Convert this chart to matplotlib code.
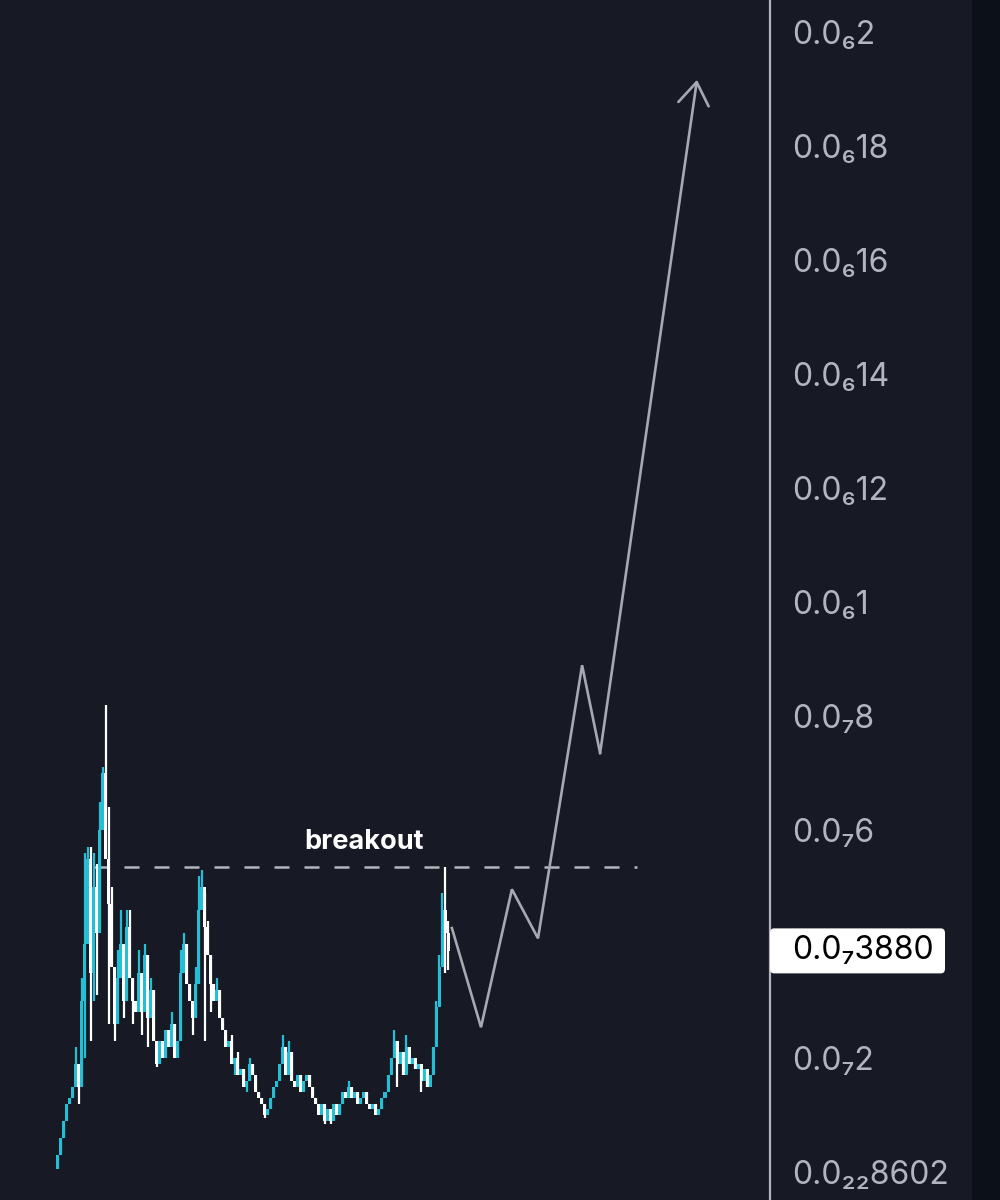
import matplotlib
matplotlib.use("Agg")
import matplotlib.pyplot as plt
from matplotlib.patches import Rectangle, FancyBboxPatch

plt.rcParams['font.family'] = ['Inter', 'DejaVu Sans']

# prices in units of 1e-8 (0.0₇1 == 1.0)
closes = [
    0.3, 0.6, 0.9, 1.2, 1.3, 1.5, 1.9, 1.5, 3.0, 4.0,
    5.5, 3.5, 5.0, 4.2, 6.0, 7.0, 5.5, 4.7, 3.6, 2.6,
    3.4, 4.0, 3.0, 4.3, 3.4, 3.0, 2.8, 3.5, 2.8, 3.8,
    2.7, 3.2, 2.3, 1.9, 2.3, 2.0, 2.5, 2.2, 2.6, 2.0,
    2.3, 3.5, 4.0, 3.3, 3.0, 2.7, 3.3, 4.6, 5.0, 4.3,
    3.8, 3.3, 3.0, 3.2, 2.7, 2.5, 2.2, 2.3, 1.9, 2.0,
    1.7, 1.8, 1.5, 1.6, 1.9, 1.7, 1.4, 1.3, 1.2, 1.0,
    1.1, 1.3, 1.5, 1.6, 1.9, 2.2, 1.7, 2.1, 1.6, 1.5,
    1.7, 1.4, 1.6, 1.7, 1.5, 1.3, 1.2, 1.0, 1.2, 0.9,
    1.1, 0.9, 1.2, 1.0, 1.2, 1.4, 1.3, 1.5, 1.3, 1.4,
    1.2, 1.3, 1.4, 1.2, 1.1, 1.2, 1.0, 1.1, 1.3, 1.4,
    1.7, 2.0, 2.3, 1.9, 2.1, 1.7, 2.2, 1.9, 2.0, 1.8,
    1.9, 1.6, 1.8, 1.5, 1.7, 2.2, 2.9, 3.6, 4.6, 4.2,
    3.88,
]
first_open = 0.05

# candles with visible wicks: index -> high / low
wick_highs = {6: 2.2, 8: 3.4, 9: 5.6, 10: 5.7, 11: 5.7, 12: 5.6, 13: 5.4,
              14: 6.5, 15: 7.1, 16: 8.2, 17: 6.4, 18: 5.0, 20: 3.9, 21: 4.6,
              23: 4.6, 24: 4.6, 27: 3.9, 29: 4.0, 31: 3.4, 38: 2.8, 41: 3.9,
              42: 4.2, 46: 3.6, 47: 5.2, 48: 5.3, 49: 4.9, 50: 4.4, 53: 3.4,
              58: 2.4, 60: 2.1, 64: 2.0, 75: 2.4, 77: 2.3, 97: 1.6,
              112: 2.5, 116: 2.4, 126: 3.0, 127: 3.8, 128: 4.9, 129: 5.35,
              130: 4.4}
wick_lows = {0: 0.05, 7: 1.2, 9: 2.0, 11: 2.3, 12: 3.0, 13: 3.1, 17: 2.6,
             19: 2.3, 22: 2.7, 25: 2.6, 28: 2.4, 30: 2.2, 33: 1.85, 36: 2.0,
             45: 2.4, 49: 2.3, 51: 2.8, 59: 1.7, 63: 1.4, 69: 0.95, 89: 0.85,
             91: 0.85, 113: 1.5, 121: 1.4, 129: 3.5, 130: 3.55}

breakout_level = 5.35
breakout_span = [12, 193]

# projected path (candle index, price)
proj_x = [131.3, 141, 151.3, 160, 174.7, 180.7, 213]
proj_y = [4.28, 2.54, 4.96, 4.1, 8.89, 7.35, 19.16]

tick_vals = [20, 18, 16, 14, 12, 10, 8, 6, 2, 0]
tick_labels = ["0.0₆2", "0.0₆18", "0.0₆16", "0.0₆14", "0.0₆12", "0.0₆1",
               "0.0₇8", "0.0₇6", "0.0₇2", "0.0₂₂8602"]
last_label = "0.0₇3880"

bg = "#171a25"
cyan = "#22bfd6"
white = "#ffffff"
grey = "#a6a9b2"

fig = plt.figure(figsize=(10, 12), dpi=100, facecolor=bg)
ax = fig.add_axes([0, 0, 0.77, 1])
ax.set_facecolor(bg)

# candles
opens = [first_open] + closes[:-1]
for i, (o, c) in enumerate(zip(opens, closes)):
    col = cyan if c >= o else white
    lo, hi = min(o, c), max(o, c)
    whi = wick_highs.get(i, hi)
    wlo = wick_lows.get(i, lo)
    ax.vlines(i, wlo, whi, color=col, lw=1.6, zorder=3)
    ax.bar(i, max(hi - lo, 0.06), bottom=lo, width=1.0, color=col,
           linewidth=0, zorder=3)

# breakout line + label
ax.plot(breakout_span, [breakout_level] * 2, color="#b4b7bf", lw=1.8,
        dashes=(6, 6), zorder=2)
ax.text(102, breakout_level + 0.22, "breakout", color="white",
        fontsize=19.5, fontweight="bold", ha="center", va="bottom")

# projection
ax.plot(proj_x[:-1], proj_y[:-1], color=grey, lw=1.9, zorder=2,
        solid_joinstyle="miter")
ax.annotate("", xy=(proj_x[-1], proj_y[-1]), xytext=(proj_x[-2], proj_y[-2]),
            arrowprops=dict(arrowstyle="->,head_length=0.8,head_width=0.55",
                            color=grey, lw=1.9, mutation_scale=20,
                            shrinkA=0, shrinkB=0))

ax.set_xlim(-19.33, 237.33)
ax.set_ylim(-0.49, 20.56)

for s in ["top", "left", "bottom"]:
    ax.spines[s].set_visible(False)
ax.spines["right"].set_color("#b2b5be")
ax.spines["right"].set_linewidth(1.6)
ax.set_xticks([])
ax.yaxis.tick_right()
ax.set_yticks(tick_vals)
ax.set_yticklabels(tick_labels)
ax.tick_params(axis="y", length=0, pad=16, labelsize=23, labelcolor="#b2b5be")

# dark strip on the far right
fig.patches.append(Rectangle((0.972, 0), 0.028, 1, transform=fig.transFigure,
                             facecolor="#0c1119", edgecolor="none", zorder=0))

# last price tag
fig.canvas.draw()
y_px = ax.transData.transform((0, closes[-1]))[1]
yf = y_px / fig.bbox.height
h = 45 / fig.bbox.height
tag = FancyBboxPatch((0.77, yf - h / 2), 0.175, h,
                     boxstyle="round,pad=0,rounding_size=0.004",
                     transform=fig.transFigure, facecolor="white",
                     edgecolor="none", zorder=5)
fig.patches.append(tag)
fig.text(0.792, yf, last_label, color="black", fontsize=23, va="center",
         ha="left", zorder=6)

fig.savefig("out.png", dpi=100, facecolor=bg)
